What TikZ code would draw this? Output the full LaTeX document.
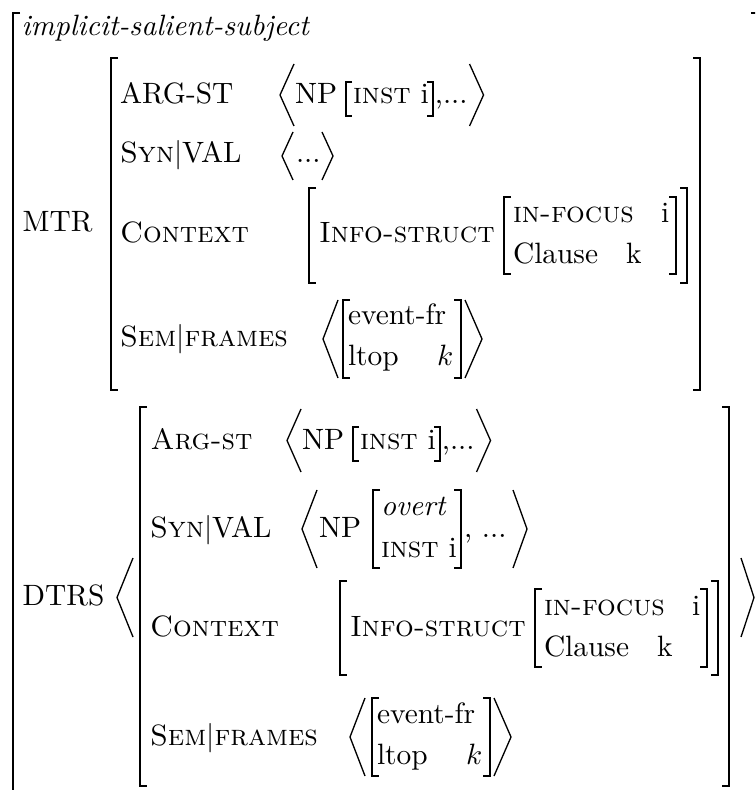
\documentclass[tikz,border=0pt]{standalone}
\usetikzlibrary{calc}
\tikzset{
  txt/.style={anchor=base west, inner sep=0pt, outer sep=0pt},
  brk/.style={line width=0.6pt, line join=miter},
  ang/.style={line width=0.45pt, line join=miter},
}
% bracket [ : coordinate = stem x / reference y ; #3 top offset ; #4 bottom offset
\newcommand{\avmBL}[4][7]{\draw[brk] ([shift={(#1,#3)}]#2) -- ([shift={(0,#3)}]#2) -- ([shift={(0,#4)}]#2) -- ([shift={(#1,#4)}]#2);}
\newcommand{\avmBR}[4][7]{\draw[brk] ([shift={(-#1,#3)}]#2) -- ([shift={(0,#3)}]#2) -- ([shift={(0,#4)}]#2) -- ([shift={(-#1,#4)}]#2);}
% angle brackets: coordinate = tip x / reference y ; #2 width ; #3 top ; #4 bottom
\newcommand{\avmAL}[4]{\draw[ang] ([shift={(#2,#3)}]#1) -- ([shift={(0,{(#3+#4)/2})}]#1) -- ([shift={(#2,#4)}]#1);}
\newcommand{\avmAR}[4]{\draw[ang] ([shift={(-#2,#3)}]#1) -- ([shift={(0,{(#3+#4)/2})}]#1) -- ([shift={(-#2,#4)}]#1);}
\begin{document}
\begin{tikzpicture}[x=0.34pt,y=-0.34pt]
\useasboundingbox (0,0) rectangle (755,790);
\clip (0,0) rectangle (755,790);

% outer matrix
\coordinate (oL) at (13,0); \avmBL{oL}{13}{830}
\coordinate (oR) at (762,0); \avmBR[11]{oR}{13}{830}
\node[txt] (type) at (21.7,36) {\textit{implicit-salient-subject}};

% ---------------- MTR
\node[txt] (mtr) at (22.7,232) {MTR};
\coordinate (mL) at (111,0); \avmBL{mL}{58}{390}
\coordinate (mR) at (700,0); \avmBR{mR}{58}{390}

% row 1
\node[txt] (m1a) at (120,104) {ARG-ST};
\coordinate (m1l) at (280,104); \avmAL{m1l}{14}{-40}{22}
\node[txt] (m1np) at (295,104) {NP};
\coordinate (m1b) at ($(m1np.base east)+(9,0)$); \avmBL[6]{m1b}{-22}{12}
\node[txt] (m1v) at ($(m1b)+(7,0)$) {\textsc{inst} i};
\coordinate (m1c) at ($(m1v.base east)+(4,0)$); \avmBR[6]{m1c}{-22}{12}
\node[txt] (m1d) at ($(m1c)+(2,0)$) {,...};
\coordinate (m1r) at ($(m1d.base east)+(16,0)$); \avmAR{m1r}{14}{-40}{22}

% row 2
\node[txt] (m2a) at (120,163) {\textsc{Syn}$|$VAL};
\coordinate (m2l) at (282,163); \avmAL{m2l}{11}{-31}{17}
\node[txt] (m2d) at (296,163) {...};
\coordinate (m2r) at (333,163); \avmAR{m2r}{11}{-31}{17}

% row 3
\node[txt] (m3a) at (120,243) {\textsc{Context}};
\coordinate (m3L) at (309,0); \avmBL{m3L}{188}{283}
\node[txt] (m3is) at (319,243) {\textsc{Info-struct}};
\coordinate (m3iL) at (504,0); \avmBL{m3iL}{197}{274}
\node[txt] (m3f) at (513,222.7) {\textsc{in-focus}};
\node[txt] (m3fi) at (661,222.7) {i};
\node[txt] (m3c) at (513,263.3) {Clause};
\node[txt] (m3ck) at (626,263.3) {k};
\coordinate (m3iR) at (676,0); \avmBR{m3iR}{197}{274}
\coordinate (m3R) at (687,0); \avmBR{m3R}{188}{283}

% row 4
\node[txt] (m4a) at (120,347) {\textsc{Sem}$|$\textsc{frames}};
\coordinate (m4l) at (323,347); \avmAL{m4l}{15}{-47}{31}
\coordinate (m4L) at (343,0); \avmBL{m4L}{300}{378}
\node[txt] (m4e) at (348,325) {event-fr};
\node[txt] (m4t) at (348,366) {ltop};
\node[txt] (m4k) at (437,366) {$k$};
\coordinate (m4R) at (461,0); \avmBR{m4R}{300}{378}
\coordinate (m4r) at (482,347); \avmAR{m4r}{17}{-47}{31}

% ---------------- DTRS
\node[txt] (dtrs) at (22.7,605) {DTRS};
\coordinate (dl) at (117,605); \avmAL{dl}{16}{-47}{32}
\coordinate (dL) at (140,0); \avmBL{dL}{407}{786}
\coordinate (dR) at (729,0); \avmBR{dR}{407}{786}
\coordinate (dr) at (754,605); \avmAR{dr}{13}{-47}{32}

% row 1
\node[txt] (d1a) at (150.7,449) {\textsc{Arg-st}};
\coordinate (d1l) at (287,449); \avmAL{d1l}{14}{-40}{23}
\node[txt] (d1np) at (302,449) {NP};
\coordinate (d1b) at ($(d1np.base east)+(9,0)$); \avmBL[6]{d1b}{-22}{12}
\node[txt] (d1v) at ($(d1b)+(7,0)$) {\textsc{inst} i};
\coordinate (d1c) at ($(d1v.base east)+(4,0)$); \avmBR[6]{d1c}{-22}{12}
\node[txt] (d1d) at ($(d1c)+(2,0)$) {,...};
\coordinate (d1r) at ($(d1d.base east)+(16,0)$); \avmAR{d1r}{14}{-40}{23}

% row 2
\node[txt] (d2a) at (150,537) {\textsc{Syn}$|$VAL};
\coordinate (d2l) at (302,537); \avmAL{d2l}{15}{-47}{31}
\node[txt] (d2np) at (319,537) {NP};
\coordinate (d2L) at (373,0); \avmBL{d2L}{490}{568}
\node[txt] (d2o) at (381,515) {\textit{overt}};
\node[txt] (d2i) at (381,557) {\textsc{inst} i};
\coordinate (d2R) at (461,0); \avmBR{d2R}{490}{568}
\node[txt] (d2d) at (464,537) {, ...};
\coordinate (d2r) at (527,537); \avmAR{d2r}{14}{-47}{31}

% row 3
\node[txt] (d3a) at (150,636) {\textsc{Context}};
\coordinate (d3L) at (340,0); \avmBL{d3L}{581}{675}
\node[txt] (d3is) at (350,636) {\textsc{Info-struct}};
\coordinate (d3iL) at (535,0); \avmBL{d3iL}{589}{667}
\node[txt] (d3f) at (544,615.5) {\textsc{in-focus}};
\node[txt] (d3fi) at (692,615.5) {i};
\node[txt] (d3c) at (544,656) {Clause};
\node[txt] (d3ck) at (657,656) {k};
\coordinate (d3iR) at (707,0); \avmBR{d3iR}{589}{667}
\coordinate (d3R) at (718,0); \avmBR{d3R}{581}{675}

% row 4
\node[txt] (d4a) at (150,745) {\textsc{Sem}$|$\textsc{frames}};
\coordinate (d4l) at (350,745); \avmAL{d4l}{15}{-47}{31}
\coordinate (d4L) at (372,0); \avmBL{d4L}{698}{776}
\node[txt] (d4e) at (377,723) {event-fr};
\node[txt] (d4t) at (377,764) {ltop};
\node[txt] (d4k) at (466,764) {$k$};
\coordinate (d4R) at (490,0); \avmBR{d4R}{698}{776}
\coordinate (d4r) at (511,745); \avmAR{d4r}{17}{-47}{31}
\end{tikzpicture}
\end{document}
